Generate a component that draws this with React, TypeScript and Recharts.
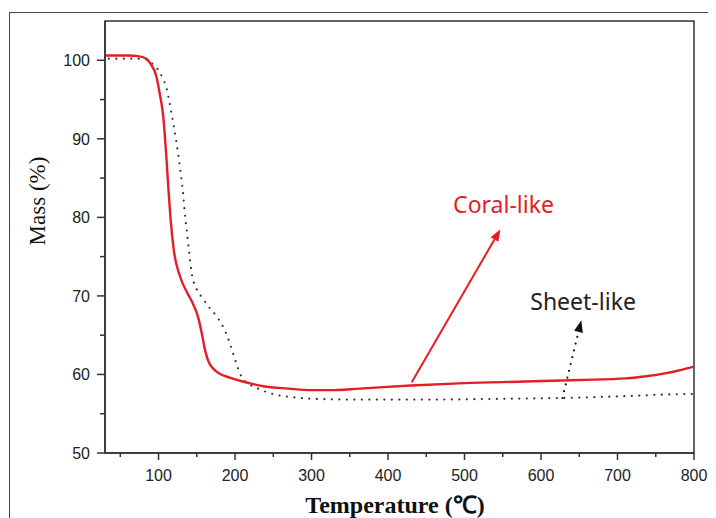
import { Line, LineChart, ReferenceArea, ReferenceDot, ReferenceLine, XAxis, YAxis } from "recharts"

// Coral-like (solid red) curve
const coralTemp = [30, 60, 75, 84, 90, 97, 102, 106, 110, 113, 116, 120, 128, 137, 145, 152, 157, 161, 166, 171, 180, 193, 210, 237, 270, 300, 324, 363, 430, 500, 580, 650, 711, 740, 760, 780, 800]
const coralMass = [100.6, 100.6, 100.5, 100.2, 99.5, 98, 95.5, 93, 88, 83.5, 79.5, 75.8, 72.5, 70.5, 69, 67.2, 65, 63, 61.5, 60.8, 60.1, 59.6, 59.1, 58.5, 58.2, 58.0, 58.0, 58.2, 58.6, 58.9, 59.1, 59.3, 59.5, 59.8, 60.1, 60.5, 61.0]

// Sheet-like (dotted black) curve
const sheetTemp = [35, 80, 89, 95, 100, 105, 110, 117, 123, 128, 132, 134, 139, 143, 150, 157, 165, 175, 182, 188, 193, 200, 208, 218, 230, 254, 275, 301, 363, 450, 550, 624, 700, 794, 800]
const sheetMass = [100.2, 100.2, 99.8, 99.3, 98.7, 97.8, 96.6, 93.2, 89.8, 86.4, 83.1, 80.9, 76.5, 73.1, 70.8, 69.8, 68.7, 67.5, 66.5, 65.3, 64.0, 61.9, 59.8, 58.8, 58.2, 57.4, 57.1, 56.9, 56.8, 56.8, 56.9, 57.0, 57.2, 57.5, 57.5]

const xTicks = [50, 100, 150, 200, 250, 300, 350, 400, 450, 500, 550, 600, 650, 700, 750, 800]
const yTicks = [50, 55, 60, 65, 70, 75, 80, 85, 90, 95, 100]

const coralData = coralTemp.map((t, i) => ({ t, m: coralMass[i] }))
const sheetData = sheetTemp.map((t, i) => ({ t, m: sheetMass[i] }))

const AXIS = "#333"
const RED = "#e41e26"

function XTick(props: any) {
  const { x, y, payload } = props
  const major = payload.value % 100 === 0
  return (
    <g>
      <line x1={x} x2={x} y1={y} y2={y + (major ? 7 : 4)} stroke={AXIS} strokeWidth={1.5} />
      {major && (
        <text x={x} y={y + 28} textAnchor="middle" fontSize={16} fill="#222" fontFamily="'Liberation Sans', Arial, sans-serif">
          {payload.value}
        </text>
      )}
    </g>
  )
}

function YTick(props: any) {
  const { x, y, payload } = props
  const major = payload.value % 10 === 0
  return (
    <g>
      <line x1={x - (major ? 8 : 5)} x2={x} y1={y} y2={y} stroke={AXIS} strokeWidth={1.5} />
      {major && (
        <text x={x - 15} y={y + 6} textAnchor="end" fontSize={16} fill="#222" fontFamily="'Liberation Sans', Arial, sans-serif">
          {payload.value}
        </text>
      )}
    </g>
  )
}

function arrow(color: string, dotted: boolean) {
  return (p: any) => {
    const { x1, y1, x2, y2 } = p
    const ang = Math.atan2(y2 - y1, x2 - x1)
    const len = 12
    const w = 4.5
    const bx = x2 - len * Math.cos(ang)
    const by = y2 - len * Math.sin(ang)
    const nx = -Math.sin(ang) * w
    const ny = Math.cos(ang) * w
    return (
      <g>
        <line
          x1={x1}
          y1={y1}
          x2={bx}
          y2={by}
          stroke={color}
          strokeWidth={dotted ? 2.2 : 2}
          strokeDasharray={dotted ? "0 7" : undefined}
          strokeLinecap={dotted ? "round" : "butt"}
        />
        <polygon points={`${x2},${y2} ${bx + nx},${by + ny} ${bx - nx},${by - ny}`} fill={color} />
      </g>
    )
  }
}

function note(text: string, color: string) {
  return (p: any) => (
    <text x={p.cx} y={p.cy + 8} textAnchor="middle" fontSize={23} fill={color} fontFamily="'Noto Sans', 'Open Sans', sans-serif">
      {text}
    </text>
  )
}

export default function App() {
  return (
    <div style={{ position: "relative", width: 708, height: 510, overflow: "hidden" }}>
      <div
        style={{
          position: "absolute",
          left: 1,
          top: 4,
          width: 800,
          height: 600,
          borderTop: "1.5px solid #444",
          borderLeft: "1.5px solid #444",
        }}
      />
      <div style={{ position: "absolute", left: 0, top: 0 }}>
        <LineChart width={708} height={510} margin={{ top: 13, right: 22, bottom: 25, left: 37 }}>
          <XAxis
            type="number"
            dataKey="t"
            domain={[30, 800]}
            ticks={xTicks}
            interval={0}
            allowDataOverflow
            height={40}
            tickSize={0}
            tickMargin={0}
            tickLine={false}
            axisLine={{ stroke: AXIS, strokeWidth: 1.5 }}
            tick={XTick}
          />
          <YAxis
            type="number"
            dataKey="m"
            domain={[50, 105]}
            ticks={yTicks}
            interval={0}
            allowDataOverflow
            width={60}
            tickSize={0}
            tickMargin={0}
            tickLine={false}
            axisLine={{ stroke: AXIS, strokeWidth: 1.5 }}
            tick={YTick}
          />
          <ReferenceArea x1={30} x2={800} y1={50} y2={105} fill="none" fillOpacity={0} stroke={AXIS} strokeWidth={1.5} />
          <Line
            data={sheetData}
            dataKey="m"
            type="monotone"
            stroke="#333"
            strokeWidth={2.2}
            strokeDasharray="0 7.5"
            strokeLinecap="round"
            dot={false}
            isAnimationActive={false}
          />
          <Line data={coralData} dataKey="m" type="monotone" stroke={RED} strokeWidth={2.4} dot={false} isAnimationActive={false} />
          <ReferenceLine segment={[{ x: 431, y: 59.0 }, { x: 547, y: 78.5 }]} shape={arrow(RED, false)} />
          <ReferenceLine segment={[{ x: 628, y: 57.0 }, { x: 652.7, y: 66.9 }]} shape={arrow("#111", true)} />
          <ReferenceDot x={551} y={81.55} r={0} shape={note("Coral-like", RED)} />
          <ReferenceDot x={655} y={69.2} r={0} shape={note("Sheet-like", "#222")} />
        </LineChart>
      </div>
      <div
        style={{
          position: "absolute",
          left: 30,
          top: 193,
          width: 0,
          height: 0,
        }}
      >
        <div
          style={{
            position: "absolute",
            transform: "translate(-50%, -50%) rotate(-90deg)",
            whiteSpace: "nowrap",
            fontFamily: "'Liberation Serif', 'Times New Roman', serif",
            fontSize: 23,
            color: "#111",
          }}
        >
          Mass (%)
        </div>
      </div>
      <div
        style={{
          position: "absolute",
          left: 387,
          top: 495,
          width: 0,
          height: 0,
        }}
      >
        <div
          style={{
            position: "absolute",
            transform: "translate(-50%, -50%)",
            whiteSpace: "nowrap",
            fontFamily: "'Liberation Serif', 'Times New Roman', serif",
            fontWeight: "bold",
            fontSize: 24,
            color: "#111",
          }}
        >
          Temperature (℃)
        </div>
      </div>
    </div>
  )
}
